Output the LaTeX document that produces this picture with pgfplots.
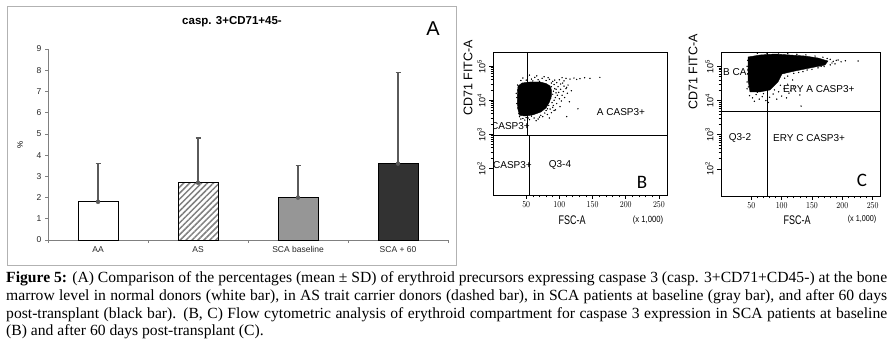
\documentclass[border=0pt]{standalone}
\usepackage{fontspec}
\setmainfont{Liberation Sans}
\newfontfamily\capfont{Liberation Serif}
\newfontfamily\calib{Carlito}
\usepackage{graphicx}
\usepackage{pgfplots}
\pgfplotsset{compat=1.18}
\usetikzlibrary{patterns.meta}

\newcommand\lineA{\textbf{Figure 5:} (A) Comparison of the percentages (mean ± SD) of erythroid precursors expressing caspase 3 (casp. 3+CD71+CD45-) at the bone}
\newcommand\lineB{marrow level in normal donors (white bar), in AS trait carrier donors (dashed bar), in SCA patients at baseline (gray bar), and after 60 days}
\newcommand\lineC{post-transplant (black bar). (B, C) Flow cytometric analysis of erythroid compartment for caspase 3 expression in SCA patients at baseline}
\newcommand\lineD{(B) and after 60 days post-transplant (C).}
\newcommand\capsize{\capfont\fontsize{15.5pt}{17pt}\selectfont}
\newcommand\fs[1]{\fontsize{#1}{#1}\selectfont}
\newlength\cwa \newlength\cwb \newlength\cwc \newlength\cwm
\newsavebox\capbox
\AtBeginDocument{%
  \sbox\capbox{\capsize\lineA}\setlength\cwa{\wd\capbox}%
  \sbox\capbox{\capsize\lineB}\setlength\cwb{\wd\capbox}%
  \sbox\capbox{\capsize\lineC}\setlength\cwc{\wd\capbox}%
  \setlength\cwm{\cwa}%
  \ifdim\cwb>\cwm \setlength\cwm{\cwb}\fi
  \ifdim\cwc>\cwm \setlength\cwm{\cwc}\fi
  \ifdim\cwm<10pt \setlength\cwm{900pt}\fi
  \pgfmathsetmacro\cfac{881/\cwm}%
  \pgfmathsetmacro\cwid{881/\cfac}%
}
\definecolor{scagray}{RGB}{150,150,150}
\definecolor{scadark}{RGB}{50,50,50}
\definecolor{errgray}{RGB}{90,90,90}

\pgfplotsset{
  flow/.style={
    anchor=south west, scale only axis,
    xmin=0, xmax=262.144, ymin=16.3, ymax=262144,
    axis line style={line width=0.8pt},
    xtick={50,100,150,200,250}, minor x tick num=4,
    ytick={100,1000,10000,100000},
    yticklabels={10\textsuperscript{2},10\textsuperscript{3},10\textsuperscript{4},10\textsuperscript{5}},
    tick pos=left, tick align=outside,
    major tick length=4pt, minor tick length=2.5pt,
    every tick/.style={black, line width=0.6pt},
    x tick label style={font=\fs{9pt}, xscale=0.85, yshift=1pt},
    y tick label style={font=\fs{9pt}, rotate=90, anchor=south},
  },
}

\begin{document}
\begin{tikzpicture}
\useasboundingbox (0,0) rectangle (896pt,343pt);

% ---------------- Panel A ----------------
\draw[gray!60, line width=0.8pt] (7pt,337pt) rectangle (456pt,78pt);
\node[font=\bfseries\fs{11.5pt}] at (232pt,321pt) {casp. 3+CD71+45-};
\node[font=\fs{20pt}] at (433pt,314pt) {A};
\node[font=\fs{8pt}, rotate=90] at (20pt,198pt) {\%};

\begin{axis}[
  at={(48pt,103pt)}, anchor=south west, scale only axis,
  width=400pt, height=191pt,
  xmin=0, xmax=4, ymin=0, ymax=9,
  axis x line*=bottom, axis y line*=left,
  axis line style={gray, line width=0.6pt, -},
  xtick={0.5,1.5,2.5,3.5},
  xticklabels={AA,AS,SCA baseline,SCA + 60},
  major x tick style={draw=none},
  minor xtick={0,1,2,3,4},
  minor x tick style={gray, line width=0.6pt},
  ytick={0,1,...,9},
  y tick style={gray, line width=0.6pt},
  tick align=outside, major tick length=3pt, minor tick length=3pt,
  ticklabel style={font=\fs{8.5pt}, text=black!85},
  /pgf/number format/assume math mode=true,
  clip=false,
]
\addplot[errgray, only marks, mark=none, error bars/.cd, y dir=plus, y explicit,
  error bar style={errgray, line width=1.3pt},
  error mark=-,
  error mark options={rotate=90, errgray, line width=1.3pt, mark size=2.5pt}]
  coordinates {(0.5,1.8) +- (0,1.8) (1.5,2.7) +- (0,2.1) (2.5,2.0) +- (0,1.5) (3.5,3.6) +- (0,4.3)};
\addplot[ybar, bar width=40pt, bar shift=0pt, fill=white, draw=black, line width=0.9pt] coordinates {(0.5,1.8)};
\addplot[ybar, bar width=40pt, bar shift=0pt, pattern={Lines[angle=45,distance=4.2pt,line width=1.5pt]}, pattern color=gray, draw=black, line width=0.9pt] coordinates {(1.5,2.7)};
\addplot[ybar, bar width=40pt, bar shift=0pt, fill=scagray, draw=black, line width=0.9pt] coordinates {(2.5,2.0)};
\addplot[ybar, bar width=40pt, bar shift=0pt, fill=scadark, draw=black, line width=0.9pt] coordinates {(3.5,3.6)};
\end{axis}

% ---------------- Panel B ----------------
\begin{axis}[ymode=log, flow, at={(493pt,148pt)}, width=174pt, height=143pt]
\addplot[fill=black, draw=black, mark=none] coordinates {
(37.7,26200) (43.7,32100) (55.7,34400) (70.8,34400) (80,31000) (86,26200)
(88,20000) (88,13300) (85,8850) (80,6000) (72,4500) (60,3700) (48,3430)
(40,3600) (37,5900) (36.5,12000) (37.7,26200)};
\addplot[only marks, mark=*, mark size=0.45pt, black] coordinates {
(45,45000) (52,51500) (58,42000) (63,47000) (68,40000) (74,44000) (80,38000)
(85,41000) (90,36000) (96,33000) (102,30000) (60,37000) (70,36000) (88,32000)
(50,39000) (77,49000) (93,39000) (42,38000) (55,55000) (66,52000) (83,46000)
(104,46000) (110,44000) (116,42000) (122,45000) (131,43000) (138,46000)
(146,44000) (161,47000) (126,41000) (100,40000) (107,37000)
(98,25000) (102,21000) (106,18000) (110,22000) (104,14000) (100,11000)
(108,12000) (112,16000) (115,9000) (96,8000) (101,6500) (118,19000) (94,5200)
(99,17000) (107,26000) (113,28000) (92,29000) (95,21000) (97,14000) (103,9500)
(91,7000) (111,24000) (105,32000)
(128,5600) (111,3300)
(40,3300) (45,2900) (50,3100) (55,2700) (62,3000) (68,2800) (75,3300) (82,3800)
(88,4300) (92,5000) (48,2600) (58,3400) (72,3600) (85,3000) (65,2500) (78,4200)
(86,5500) (53,3000) (42,2800) (70,3200)
(37,20000) (36,12000) (38,6000) (37,28000) (39,4000) (35,16000) (36,8000)
(86,20000) (90,15000) (92,10000) (84,7000) (88,25000) (80,5000) (94,12000)
(89,8500) (83,16000) (91,18500) (93,22000) (87,11500) (82,5600) (90,6200) (95,16500)};
\addplot[black, line width=0.8pt, mark=none] coordinates {(0,950) (262.144,950)};
\addplot[black, line width=0.8pt, mark=none] coordinates {(52.3,950) (52.3,262144)};
\addplot[black, line width=0.8pt, mark=none] coordinates {(54.2,16.3) (54.2,950)};
\end{axis}
\begin{scope}
\clip (493pt,148pt) rectangle (667pt,291pt);
\node[font=\fs{10pt}, anchor=east, inner sep=0pt] at (530pt,217pt) {CASP3+};
\node[font=\fs{10pt}, anchor=east, inner sep=0pt] at (532pt,178pt) {CASP3+};
\end{scope}
\node[font=\fs{10pt}] at (560pt,178pt) {Q3-4};
\node[font=\fs{10pt}] at (621pt,231pt) {A CASP3+};
\node[font=\calib\fs{19pt}] at (642pt,161pt) {B};
\node[font=\fs{12.5pt}, rotate=90] at (468pt,265pt) {CD71 FITC-A};
\node[font=\fs{12.5pt}, xscale=0.72] at (572pt,123pt) {FSC-A};
\node[font=\fs{9pt}, xscale=0.85] at (648pt,123pt) {(x 1,000)};

% ---------------- Panel C ----------------
\node[font=\fs{10pt}, anchor=west, inner sep=0pt] at (723pt,271pt) {B CASP3+};
\begin{axis}[ymode=log, flow, at={(721pt,147pt)}, width=159pt, height=144pt]
\addplot[fill=black, draw=black, mark=none] coordinates {
(44.5,187000) (64.3,214000) (89,229000) (113.7,214000) (138.4,200000)
(159.8,175000) (176.3,143000) (171.3,109000) (146.6,89500) (121.9,73100)
(100.5,59800) (93.9,34900) (80.7,20400) (64.3,17900) (47.8,17900)
(44.5,40000) (44.5,187000)};
\addplot[only marks, mark=*, mark size=0.45pt, black] coordinates {
(180,160000) (185,140000) (190,150000) (193,153000) (198,135000) (205,145000)
(226,143000) (183,125000) (175,170000) (168,185000) (188,118000)
(60,240000) (75,245000) (95,245000) (110,235000) (125,225000) (140,215000) (155,200000)
(180,110000) (165,100000) (150,82000) (135,70000) (120,62000) (110,52000)
(160,90000) (142,78000) (128,66000) (170,98000)
(47,14000) (52,12000) (58,15000) (63,11000) (68,13000) (74,10000) (80,12500)
(86,15500) (92,11000) (55,9500) (70,16000) (100,13500) (108,12000) (112,16500)
(78,8800) (95,18000) (60,17500) (88,20500) (104,22000) (98,28000) (110,30000)
(118,40000) (105,45000) (130,14600) (132,6900) (120,25000) (115,20000)
(43,100000) (44,60000) (43,35000) (45,25000) (44,150000) (43,22000)};
\addplot[black, line width=0.8pt, mark=none] coordinates {(0,4680) (262.144,4680)};
\addplot[black, line width=0.8pt, mark=none] coordinates {(76,16.3) (76,262144)};
\end{axis}
\node[font=\fs{10pt}, anchor=west, inner sep=0pt] at (783pt,254pt) {ERY A CASP3+};
\node[font=\fs{10pt}] at (740pt,205pt) {Q3-2};
\node[font=\fs{10pt}, anchor=west, inner sep=0pt] at (773pt,205pt) {ERY C CASP3+};
\node[font=\calib\fs{19pt}] at (862pt,163pt) {C};
\node[font=\fs{12.5pt}, rotate=90] at (693pt,271pt) {CD71 FITC-A};
\node[font=\fs{12.5pt}, xscale=0.72] at (797pt,123pt) {FSC-A};
\node[font=\fs{8.5pt}, xscale=0.85] at (862pt,124pt) {(x 1,000)};

% ---------------- Caption ----------------
\node[anchor=base west, inner sep=0pt] at (6pt,60.3pt) {\scalebox{\cfac}[1]{\makebox[\cwid pt][s]{\capsize\lineA}}};
\node[anchor=base west, inner sep=0pt] at (6pt,42.6pt) {\scalebox{\cfac}[1]{\makebox[\cwid pt][s]{\capsize\lineB}}};
\node[anchor=base west, inner sep=0pt] at (6pt,24.9pt) {\scalebox{\cfac}[1]{\makebox[\cwid pt][s]{\capsize\lineC}}};
\node[anchor=base west, inner sep=0pt] at (6pt,7.2pt) {\scalebox{\cfac}[1]{\capsize\lineD}};
\end{tikzpicture}
\end{document}
